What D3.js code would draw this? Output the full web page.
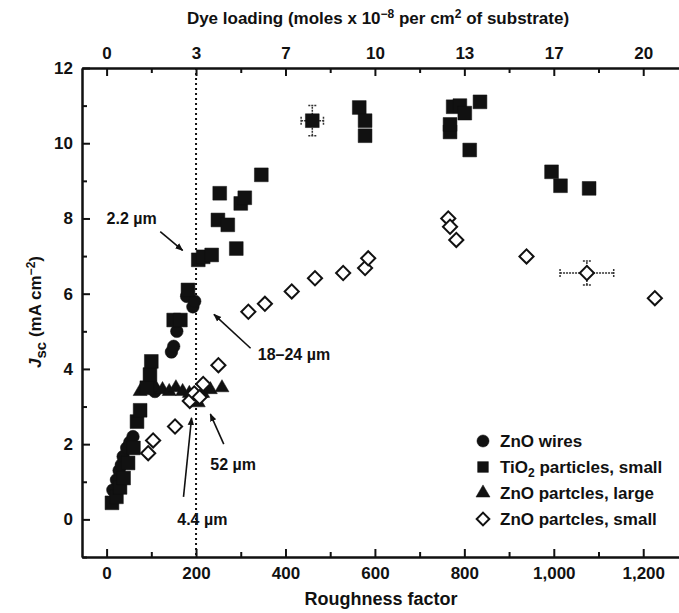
<!DOCTYPE html>
<html>
<head>
  <meta charset="utf-8">
  <title>Jsc vs roughness factor</title>
  <script src="https://d3js.org/d3.v7.min.js"></script>
  <style>
    body { margin: 0; background: #fff; }
    svg { display: block; }
    text { font-family: "Liberation Sans Narrow", "Arial Narrow", "Liberation Sans", sans-serif; font-weight: bold; fill: #111; }
    .axis path, .axis line { stroke: #111; stroke-width: 2; }
    .axis text { font-size: 17px; }
  </style>
</head>
<body>
<svg id="chart" width="679" height="613"></svg>
<script>
  /* values: [roughness factor, Jsc] */
  var znoWires = [
    [14, 0.78], [22, 1.05], [28, 1.3], [33, 1.45], [37, 1.67], [45, 1.9],
    [52, 2.05], [59, 2.2], [100, 3.55], [108, 3.4], [145, 4.45], [150, 4.6],
    [157, 5.0], [179, 5.93], [193, 5.65], [197, 5.8]
  ];
  var tio2Small = [
    [12, 0.44], [22, 0.6], [30, 0.85], [38, 1.1], [48, 1.5], [60, 1.9],
    [68, 2.6], [75, 2.9], [90, 3.5], [97, 3.85], [100, 4.2], [150, 5.3],
    [165, 5.3], [182, 6.1], [205, 6.9], [216, 6.98], [235, 7.03], [249, 7.96],
    [253, 8.67], [271, 7.83], [290, 7.2], [300, 8.4], [309, 8.55], [346, 9.16],
    [460, 10.6], [565, 10.95], [578, 10.6], [578, 10.2],
    [768, 10.3], [768, 10.5], [775, 10.97], [790, 11.0], [801, 10.8],
    [835, 11.1], [812, 9.82], [995, 9.24], [1015, 8.87], [1079, 8.8]
  ];
  var znoLarge = [
    [75, 3.4], [85, 3.5], [95, 3.45], [110, 3.5], [125, 3.45], [140, 3.4],
    [155, 3.5], [170, 3.4], [185, 3.35], [200, 3.25], [205, 3.1], [215, 3.35],
    [232, 3.45], [258, 3.5]
  ];
  var znoSmall = [
    [93, 1.76], [104, 2.1], [153, 2.47], [186, 3.15], [196, 3.35], [208, 3.25],
    [216, 3.6], [250, 4.1], [317, 5.52], [354, 5.73], [414, 6.06], [466, 6.41],
    [529, 6.55], [578, 6.68], [585, 6.94], [764, 8.0], [768, 7.78], [782, 7.43],
    [939, 6.99], [1074, 6.55], [1226, 5.88]
  ];
  // [roughness, Jsc, +/- roughness, +/- Jsc]
  var errorBars = [[460, 10.6, 25, 0.4], [1074, 6.55, 60, 0.32]];

  var xTicks = [0, 200, 400, 600, 800, 1000, 1200];
  var xMinor = [100, 300, 500, 700, 900, 1100];
  var yTicks = [0, 2, 4, 6, 8, 10, 12];
  var yMinor = [-1, 1, 3, 5, 7, 9, 11];
  var dyeLabels = ["0", "3", "7", "10", "13", "17", "20"];
  var legendNames = ["ZnO wires", "TiO2 particles, small", "ZnO partcles, large", "ZnO partcles, small"];

  var svg = d3.select("#chart");

  var x = d3.scaleLinear().domain([-55, 1280]).range([82, 679]);
  var y = d3.scaleLinear().domain([-1, 12]).range([557, 68]);

  svg.append("defs").append("marker")
     .attr("id", "arrow")
     .attr("viewBox", "0 0 10 10")
     .attr("refX", 9).attr("refY", 5)
     .attr("markerWidth", 8).attr("markerHeight", 8)
     .attr("markerUnits", "userSpaceOnUse")
     .attr("orient", "auto")
     .append("path").attr("d", "M0,1 L10,5 L0,9 Z").attr("fill", "#111");

  /* axes, ticks pointing inwards */
  svg.append("g").attr("class", "axis")
     .attr("transform", "translate(0,557)")
     .call(d3.axisBottom(x).tickValues(xTicks).tickSize(-8).tickSizeOuter(0)
       .tickPadding(10).tickFormat(d3.format(",")));
  svg.append("g").attr("class", "axis")
     .attr("transform", "translate(0,557)")
     .call(d3.axisBottom(x).tickValues(xMinor).tickSize(-5).tickSizeOuter(0).tickFormat(""));

  svg.append("g").attr("class", "axis")
     .attr("transform", "translate(0,68)")
     .call(d3.axisTop(x).tickValues(xTicks).tickSize(-8).tickSizeOuter(0)
       .tickPadding(9).tickFormat(function(d, i) { return dyeLabels[i]; }));
  svg.append("g").attr("class", "axis")
     .attr("transform", "translate(0,68)")
     .call(d3.axisTop(x).tickValues(xMinor).tickSize(-5).tickSizeOuter(0).tickFormat(""));

  svg.append("g").attr("class", "axis")
     .attr("transform", "translate(82,0)")
     .call(d3.axisLeft(y).tickValues(yTicks).tickSize(-8).tickSizeOuter(0).tickPadding(9));
  svg.append("g").attr("class", "axis")
     .attr("transform", "translate(82,0)")
     .call(d3.axisLeft(y).tickValues(yMinor).tickSize(-5).tickSizeOuter(0).tickFormat(""));

  /* titles */
  svg.append("text").attr("x", 381).attr("y", 605)
     .attr("text-anchor", "middle").style("font-size", "18px")
     .text("Roughness factor");

  var topTitle = svg.append("text").attr("x", 378).attr("y", 24)
     .attr("text-anchor", "middle").style("font-size", "17px");
  topTitle.append("tspan").text("Dye loading (moles x 10");
  topTitle.append("tspan").attr("dy", -6).style("font-size", "12px").text("\u22128");
  topTitle.append("tspan").attr("dy", 6).text(" per cm");
  topTitle.append("tspan").attr("dy", -6).style("font-size", "12px").text("2");
  topTitle.append("tspan").attr("dy", 6).text(" of substrate)");

  var yl = svg.append("text")
     .attr("transform", "translate(41,312) rotate(-90)")
     .attr("text-anchor", "middle").style("font-size", "17px");
  yl.append("tspan").style("font-style", "italic").text("J");
  yl.append("tspan").attr("dy", 5).style("font-size", "15px").text("sc");
  yl.append("tspan").attr("dy", -5).text(" (mA cm");
  yl.append("tspan").attr("dy", -6).style("font-size", "12px").text("\u22122");
  yl.append("tspan").attr("dy", 6).text(")");

  /* dotted line at roughness 200 */
  svg.append("line")
     .attr("x1", x(200)).attr("x2", x(200))
     .attr("y1", y(12)).attr("y2", y(-1))
     .attr("stroke", "#111").attr("stroke-width", 2)
     .attr("stroke-dasharray", "2,3");

  /* error bars */
  var eb = svg.append("g").attr("stroke", "#333").attr("stroke-width", 1.5)
     .attr("stroke-dasharray", "2,1");
  errorBars.forEach(function(d) {
    eb.append("line").attr("x1", x(d[0] - d[2])).attr("x2", x(d[0] + d[2]))
      .attr("y1", y(d[1])).attr("y2", y(d[1]));
    eb.append("line").attr("x1", x(d[0])).attr("x2", x(d[0]))
      .attr("y1", y(d[1] - d[3])).attr("y2", y(d[1] + d[3]));
    [d[0] - d[2], d[0] + d[2]].forEach(function(v) {
      eb.append("line").attr("x1", x(v)).attr("x2", x(v))
        .attr("y1", y(d[1]) - 4).attr("y2", y(d[1]) + 4).attr("stroke-dasharray", null);
    });
    [d[1] - d[3], d[1] + d[3]].forEach(function(v) {
      eb.append("line").attr("x1", x(d[0]) - 4).attr("x2", x(d[0]) + 4)
        .attr("y1", y(v)).attr("y2", y(v)).attr("stroke-dasharray", null);
    });
  });

  /* markers */
  var sym = {
    circle: d3.symbol().type(d3.symbolCircle).size(125),
    square: d3.symbol().type(d3.symbolSquare).size(190),
    triangle: d3.symbol().type(d3.symbolTriangle).size(85),
    diamond: d3.symbol().type(d3.symbolSquare).size(100)
  };

  function drawSeries(data, kind) {
    var g = svg.append("g");
    g.selectAll("path").data(data).enter().append("path")
     .attr("d", sym[kind]())
     .attr("transform", function(d) {
       return "translate(" + x(d[0]) + "," + y(d[1]) + ")" + (kind === "diamond" ? " rotate(45)" : "");
     })
     .attr("fill", kind === "diamond" ? "#fff" : "#111")
     .attr("stroke", "#111")
     .attr("stroke-width", kind === "diamond" ? 2 : 0.5);
  }
  drawSeries(znoWires, "circle");
  drawSeries(znoLarge, "triangle");
  drawSeries(tio2Small, "square");
  drawSeries(znoSmall, "diamond");

  /* annotations */
  var ann = svg.append("g").style("font-size", "16px");
  ann.append("text").attr("x", x(0)).attr("y", y(7.85)).text("2.2 \u00b5m");
  ann.append("line").attr("x1", x(120)).attr("y1", y(7.65)).attr("x2", x(170)).attr("y2", y(7.15));
  ann.append("text").attr("x", x(338)).attr("y", y(4.25)).text("18\u201324 \u00b5m");
  ann.append("line").attr("x1", x(322)).attr("y1", y(4.55)).attr("x2", x(240)).attr("y2", y(5.45));
  ann.append("text").attr("x", x(232)).attr("y", y(1.3)).text("52 \u00b5m");
  ann.append("line").attr("x1", x(262)).attr("y1", y(2.0)).attr("x2", x(232)).attr("y2", y(2.8));
  ann.append("text").attr("x", x(158)).attr("y", y(-0.15)).text("4.4 \u00b5m");
  ann.append("line").attr("x1", x(172)).attr("y1", y(0.6)).attr("x2", x(190)).attr("y2", y(2.7));
  ann.selectAll("line").attr("stroke", "#111").attr("stroke-width", 1.6)
     .attr("marker-end", "url(#arrow)");

  /* legend */
  var kinds = ["circle", "square", "triangle", "diamond"];
  var lg = svg.selectAll(".leg").data(legendNames).enter().append("g")
     .attr("transform", function(d, i) { return "translate(483," + (441 + i * 26) + ")"; });
  lg.append("path")
    .attr("d", function(d, i) {
      var s = { circle: 115, square: 115, triangle: 85, diamond: 80 }[kinds[i]];
      var t = kinds[i] === "diamond" ? d3.symbolSquare : kinds[i] === "circle" ? d3.symbolCircle
            : kinds[i] === "square" ? d3.symbolSquare : d3.symbolTriangle;
      return d3.symbol().type(t).size(s)();
    })
    .attr("transform", function(d, i) { return kinds[i] === "diamond" ? "rotate(45)" : null; })
    .attr("fill", function(d, i) { return kinds[i] === "diamond" ? "#fff" : "#111"; })
    .attr("stroke", "#111")
    .attr("stroke-width", function(d, i) { return kinds[i] === "diamond" ? 2 : 0.5; });
  lg.each(function(d) {
    var t = d3.select(this).append("text").attr("x", 17).attr("y", 6).style("font-size", "17px");
    if (d.indexOf("TiO2") === 0) {
      t.append("tspan").text("TiO");
      t.append("tspan").attr("dy", 4).style("font-size", "12px").text("2");
      t.append("tspan").attr("dy", -4).text(d.slice(4));
    } else {
      t.text(d);
    }
  });
</script>
</body>
</html>
